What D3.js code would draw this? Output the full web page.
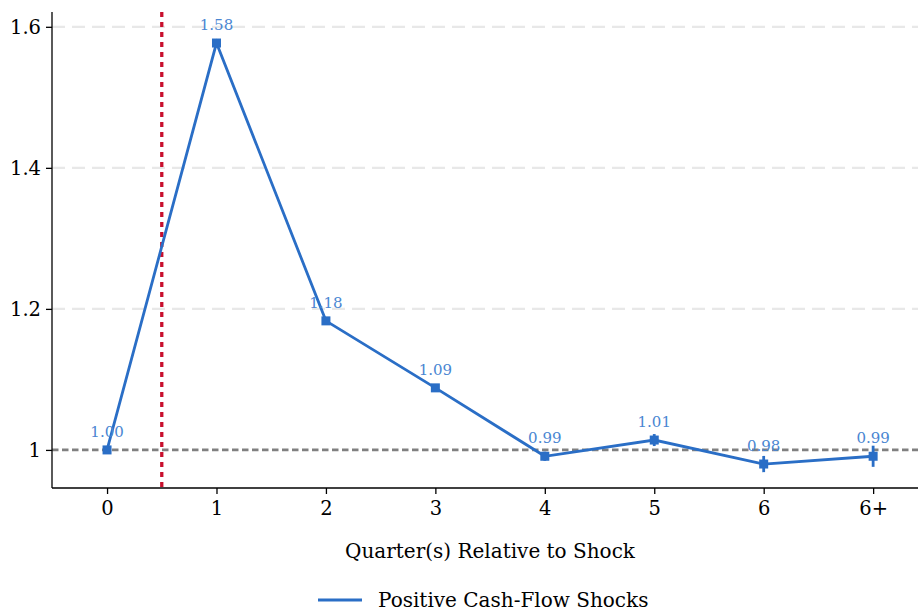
<!DOCTYPE html>
<html><head><meta charset="utf-8">
<script src="https://cdn.jsdelivr.net/npm/d3@7"></script>
<style>body{margin:0;background:#fff;}</style>
</head><body>
<svg id="c" width="919" height="614"></svg>
<script>
const categories = ["0","1","2","3","4","5","6","6+"];
const values = [1.00, 1.577, 1.183, 1.088, 0.991, 1.014, 0.980, 0.991];
const errors = [0.002, 0.003, 0.003, 0.003, 0.0065, 0.0085, 0.0115, 0.015];
const labels = ["1.00","1.58","1.18","1.09","0.99","1.01","0.98","0.99"];
const yTicks = [1, 1.2, 1.4, 1.6];
const yTickLabels = ["1","1.2","1.4","1.6"];
const seriesName = "Positive Cash-Flow Shocks";
const xTitle = "Quarter(s) Relative to Shock";
const shockAt = 0.5;

const FONT = '"DejaVu Serif", "Liberation Serif", serif';
const svg = d3.select("#c");
const L = 52, R = 918, T = 12, B = 488;
const x = d3.scaleLinear().domain([-0.503, 7.41]).range([L, R]);
const y = d3.scaleLinear().domain([0.946, 1.621]).range([B, T]);
const blue = "#2a6ec6";

svg.append("g").selectAll("line").data(yTicks.filter(d => d !== 1)).join("line")
  .attr("x1", L).attr("x2", R).attr("y1", d => y(d)).attr("y2", d => y(d))
  .attr("stroke", "#e8e8e8").attr("stroke-width", 2.2).attr("stroke-dasharray", "13,7");

svg.append("line").attr("x1", L).attr("x2", R).attr("y1", y(1)).attr("y2", y(1))
  .attr("stroke", "#808080").attr("stroke-width", 2.7).attr("stroke-dasharray", "6.5,3.5");

svg.append("line").attr("x1", x(shockAt)).attr("x2", x(shockAt)).attr("y1", T).attr("y2", B)
  .attr("stroke", "#c8102e").attr("stroke-width", 3.3).attr("stroke-dasharray", "5,5");

const yAxis = d3.axisLeft(y).tickValues(yTicks).tickFormat((d,i) => yTickLabels[i]).tickSize(6).tickSizeOuter(0);
const gy = svg.append("g").attr("transform", `translate(${L},0)`).call(yAxis).attr("font-family", FONT);
gy.select(".domain").attr("d", `M0,${T}V${B}`).attr("stroke", "#000").attr("stroke-width", 1.3);
gy.selectAll(".tick line").attr("stroke", "#000").attr("stroke-width", 1.3);
gy.selectAll(".tick text").attr("font-size", 19.5).attr("fill", "#000").attr("x", -11).attr("font-family", FONT);

const xAxis = d3.axisBottom(x).tickValues(d3.range(categories.length)).tickFormat(i => categories[i]).tickSize(6).tickSizeOuter(0);
const gx = svg.append("g").attr("transform", `translate(0,${B})`).call(xAxis).attr("font-family", FONT);
gx.select(".domain").attr("d", `M${L},0H${R}`).attr("stroke", "#000").attr("stroke-width", 1.3);
gx.selectAll(".tick line").attr("stroke", "#000").attr("stroke-width", 1.3);
gx.selectAll(".tick text").attr("font-size", 19.5).attr("fill", "#000").attr("y", 13).attr("font-family", FONT);

const data = categories.map((c, i) => ({i, v: values[i], e: errors[i], l: labels[i]}));
svg.append("path").datum(data)
  .attr("d", d3.line().x(d => x(d.i)).y(d => y(d.v)))
  .attr("fill", "none").attr("stroke", blue).attr("stroke-width", 2.8);

svg.append("g").selectAll("line").data(data).join("line")
  .attr("x1", d => x(d.i)).attr("x2", d => x(d.i))
  .attr("y1", d => y(d.v - d.e)).attr("y2", d => y(d.v + d.e))
  .attr("stroke", blue).attr("stroke-width", 2.8);

svg.append("g").selectAll("rect").data(data).join("rect")
  .attr("x", d => x(d.i) - 4.5).attr("y", d => y(d.v) - 4.5)
  .attr("width", 9).attr("height", 9).attr("fill", blue);

svg.append("g").selectAll("text").data(data).join("text")
  .attr("x", d => x(d.i)).attr("y", d => y(d.v) - 13)
  .attr("text-anchor", "middle").attr("font-size", 15).attr("fill", "#4a86d2")
  .attr("font-family", FONT).text(d => d.l);

svg.append("text").attr("x", 490).attr("y", 558).attr("text-anchor", "middle")
  .attr("font-size", 20).attr("fill", "#000").attr("font-family", FONT).text(xTitle);

svg.append("line").attr("x1", 318).attr("x2", 362).attr("y1", 600).attr("y2", 600)
  .attr("stroke", blue).attr("stroke-width", 2.8);
svg.append("text").attr("x", 378).attr("y", 607).attr("font-size", 20).attr("fill", "#000")
  .attr("font-family", FONT).text(seriesName);
</script>
</body></html>
